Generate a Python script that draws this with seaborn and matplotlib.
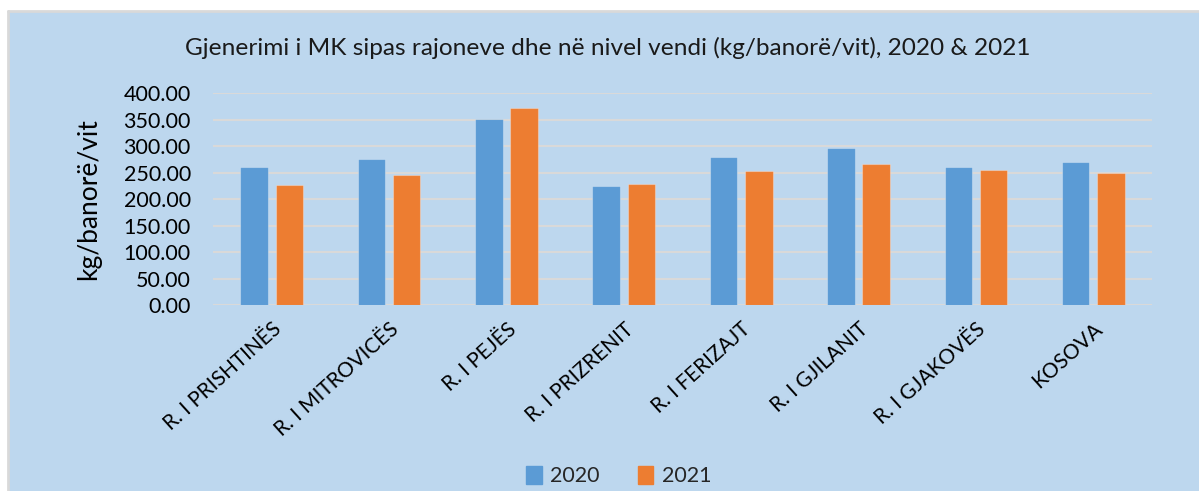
import matplotlib
matplotlib.use("Agg")
import matplotlib.pyplot as plt
import matplotlib.patches as mpatches
import seaborn as sns
import pandas as pd

regions = ["R. I PRISHTINËS", "R. I MITROVICËS", "R. I PEJËS", "R. I PRIZRENIT",
           "R. I FERIZAJT", "R. I GJILANIT", "R. I GJAKOVËS", "KOSOVA"]
values_2020 = [260, 275, 352, 225, 280, 296, 260, 270]
values_2021 = [227, 245, 373, 228, 253, 266, 256, 249]
years = ["2020", "2021"]
yticks = [0, 50, 100, 150, 200, 250, 300, 350, 400]

title = "Gjenerimi i MK sipas rajoneve dhe në nivel vendi (kg/banorë/vit), 2020 & 2021"
ylabel = "kg/banorë/vit"

df = pd.DataFrame({
    "region": regions * 2,
    "year": [years[0]] * len(regions) + [years[1]] * len(regions),
    "value": values_2020 + values_2021,
})

sns.set_theme(style="white")
plt.rcParams["font.family"] = ["Lato", "DejaVu Sans"]

BG = "#BDD7EE"
palette = {"2020": "#5B9BD5", "2021": "#ED7D31"}

fig = plt.figure(figsize=(11.99, 4.91), dpi=100)
fig.patch.set_facecolor("white")
bg = mpatches.Rectangle((8 / 1199, 0), 1 - 8 / 1199, 1 - 11 / 491, transform=fig.transFigure,
                        facecolor=BG, edgecolor="none", zorder=-10)
fig.patches.append(bg)
fig.add_artist(plt.Line2D([8 / 1199, 1], [1 - 11 / 491, 1 - 11 / 491], transform=fig.transFigure,
                          color="#D9D9D9", lw=2))
fig.add_artist(plt.Line2D([8 / 1199, 8 / 1199], [0, 1 - 11 / 491], transform=fig.transFigure,
                          color="#D9D9D9", lw=2))

ax = fig.add_axes([213 / 1199, 1 - 305 / 491, (1152 - 213) / 1199, (305 - 93.3) / 491])
ax.patch.set_alpha(0)

sns.barplot(data=df, x="region", y="value", hue="year", palette=palette, ax=ax,
            width=0.6, gap=0.22, legend=False, saturation=1, zorder=3)
for p in ax.patches:
    p.set_edgecolor((1, 1, 1, 0.3))
    p.set_linewidth(0.8)

ax.set_ylim(0, 400)
ax.set_yticks(yticks)
ax.set_yticklabels([f"{v:.2f}" for v in yticks], fontsize=15.5, color="black")
ax.set_xlim(-0.5, len(regions) - 0.5)
ax.set_xticks(range(len(regions)))
ax.set_xticklabels(regions, rotation=42, ha="right", rotation_mode="anchor", fontsize=15, color="black")
ax.tick_params(axis="y", length=0, pad=16)
ax.tick_params(axis="x", length=0, pad=10)
ax.grid(axis="y", color="#D9D9D9", lw=1.5, zorder=0)
for s in ax.spines.values():
    s.set_visible(False)
ax.set_xlabel("")
ax.set_ylabel(ylabel, fontsize=19, color="black")
ax.yaxis.set_label_coords(-(213 - 101) / (1152 - 213), 0.5)

fig.text(608 / 1199, 1 - 48 / 491, title, ha="center", va="center", fontsize=17.6, color="#1a1a1a")

handles = [mpatches.Patch(color=palette[y], label=y) for y in years]
fig.legend(handles=handles, loc="center", bbox_to_anchor=(619 / 1199, 1 - 476 / 491), ncol=2,
           frameon=False, fontsize=15.5, handlelength=0.7, handleheight=0.9, handletextpad=0.4,
           columnspacing=1.8)

fig.savefig("out.png", dpi=100, facecolor=fig.get_facecolor())
